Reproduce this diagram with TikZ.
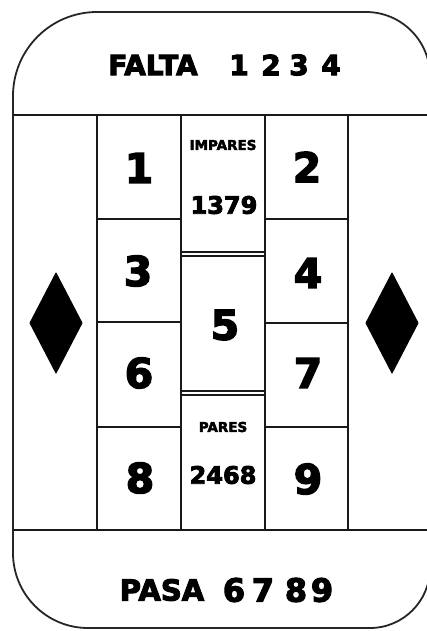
\documentclass[tikz,border=0pt]{standalone}
\usepackage{fontspec}
\setmainfont{DejaVu Sans}
\newfontfamily\heavy{DejaVu Sans Bold}[FakeBold=3.5]
\begin{document}
\begin{tikzpicture}[x=1pt,y=-1pt,
  frame/.style={line width=1.8pt,draw=black!85},
  grid/.style={line width=1.9pt,draw=black!90},
  big/.style={inner sep=0pt,font=\fontsize{41}{41}\heavy},
  mid/.style={inner sep=0pt,font=\fontsize{24}{24}\heavy},
  tiny/.style={inner sep=0pt,font=\fontsize{13.5}{13.5}\heavy},
  head/.style={inner sep=0pt,font=\fontsize{28}{28}\heavy},
  foot/.style={inner sep=0pt,font=\fontsize{29}{29}\heavy},
  footnum/.style={inner sep=0pt,font=\fontsize{32}{32}\heavy},
  pip/.style={fill=black,draw=black,line width=1pt,line join=round}]
\useasboundingbox (0,0) rectangle (427,631);
\fill[white] (0,0) rectangle (427,631);
% outer rounded frame
\draw[frame] (13,300) -- (13,96)
  .. controls (13,49.6) and (50.6,12) .. (97,12)
  -- (366,12)
  .. controls (401.3,12) and (430,40.7) .. (430,76)
  -- (430,568)
  .. controls (430,601.1) and (403.1,628) .. (370,628)
  -- (88,628)
  .. controls (46.6,628) and (13,594.4) .. (13,553)
  -- cycle;
% bands
\draw[grid] (13,115) -- (430,115);
\draw[grid] (13,530) -- (430,530);
% columns
\foreach \x in {97,181,265,348} \draw[grid] (\x,115) -- (\x,530);
% left cells
\foreach \y in {219,322,427} \draw[grid] (97,\y) -- (181,\y);
% right cells
\foreach \y in {219,323,427} \draw[grid] (265,\y) -- (348,\y);
% middle boxes (double lines)
\draw[grid,line width=1.8pt] (181,252.3) -- (265,252.3);
\draw[grid,line width=1.8pt] (181,255.7) -- (265,255.7);
\draw[grid,line width=1.8pt] (181,391.3) -- (265,391.3);
\draw[grid,line width=1.8pt] (181,394.7) -- (265,394.7);
% diamonds
\draw[pip] (56,273) -- (82,323) -- (56,373) -- (30,323) -- cycle;
\draw[pip] (392,273) -- (418,323) -- (392,373) -- (366,323) -- cycle;
% header
\node[head] (falta) at (153,65) {FALTA};
\node[head] (f1) at (239,65) {1};
\node[head] (f2) at (271,65) {2};
\node[head] (f3) at (299,65) {3};
\node[head] (f4) at (331,65) {4};
% footer
\node[foot] (pasa) at (162,590) {PASA};
\node[footnum] (p6) at (234,590) {6};
\node[footnum] (p7) at (263,590) {7};
\node[footnum] (p8) at (296,590) {8};
\node[footnum] (p9) at (322,590) {9};
% cells
\node[big] (c1) at (139,168) {1};
\node[big] (c2) at (307,167) {2};
\node[big] (c3) at (138,271) {3};
\node[big] (c4) at (308,273) {4};
\node[big] (c5) at (225,325) {5};
\node[big] (c6) at (139,373) {6};
\node[big] (c7) at (308,373) {7};
\node[big] (c8) at (140,478) {8};
\node[big] (c9) at (308,479) {9};
\node[tiny] (impares) at (223,145) {IMPARES};
\node[mid] (odd) at (224,205) {1379};
\node[tiny] (pares) at (223,427) {PARES};
\node[mid] (even) at (223,475) {2468};
\end{tikzpicture}
\end{document}
